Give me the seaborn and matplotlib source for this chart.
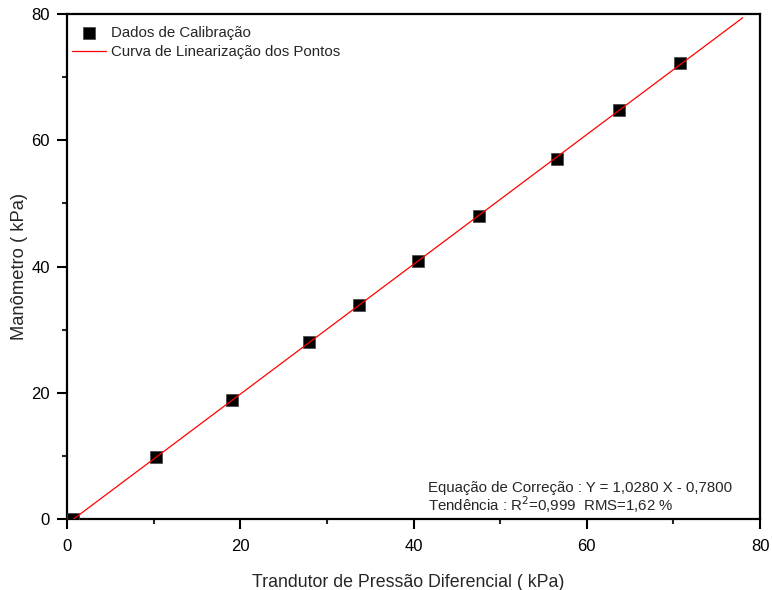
import numpy as np
import pandas as pd
import matplotlib
matplotlib.use("Agg")
import matplotlib.pyplot as plt
import seaborn as sns
from matplotlib.ticker import MultipleLocator

# Calibration readings (kPa)
transdutor = [0.7, 10.3, 19.0, 27.9, 33.7, 40.5, 47.6, 56.6, 63.7, 70.8]
manometro = [0.0, 9.8, 18.9, 28.0, 33.9, 40.8, 48.0, 57.0, 64.8, 72.2]

# Linear fit: Y = a X + b
coef_a = 1.0280
coef_b = -0.7800
fit_x = [0.76, 78.0]

sns.set_style("ticks")
plt.rcParams["font.family"] = ["Liberation Sans", "DejaVu Sans"]

fig = plt.figure(figsize=(7.72, 5.90), dpi=100)
ax = fig.add_axes([0.0868, 0.1203, 0.8977, 0.8560])

df = pd.DataFrame({"x": transdutor, "y": manometro})
sns.scatterplot(data=df, x="x", y="y", marker="s", s=80, color="black",
                edgecolor="#444444", linewidth=0.5, ax=ax,
                label="Dados de Calibração", zorder=3)

lx = np.array(fit_x)
ly = coef_a * lx + coef_b
sns.lineplot(x=lx, y=ly, color="red", linewidth=0.9, ax=ax,
             label="Curva de Linearização dos Pontos", zorder=4)

ax.set_xlim(0, 80)
ax.set_ylim(0, 80)
ax.xaxis.set_major_locator(MultipleLocator(20))
ax.xaxis.set_minor_locator(MultipleLocator(10))
ax.yaxis.set_major_locator(MultipleLocator(20))
ax.yaxis.set_minor_locator(MultipleLocator(10))
ax.tick_params(which="major", direction="out", length=7.2, width=1.5,
               labelsize=12, colors="black", pad=5)
ax.tick_params(axis="x", which="major", pad=7.5)
ax.tick_params(which="minor", direction="out", length=3.6, width=1.5)
ax.tick_params(top=False, right=False, which="both")

for sp in ax.spines.values():
    sp.set_visible(True)
    sp.set_linewidth(1.6)
    sp.set_color("black")

ax.set_xlabel("Trandutor de Pressão Diferencial ( kPa)", fontsize=12.8)
ax.set_ylabel("Manômetro ( kPa)", fontsize=13.2)
ax.xaxis.set_label_coords(0.492, -0.108)
ax.yaxis.set_label_coords(-0.056, 0.5)

leg = ax.legend(loc="upper left", bbox_to_anchor=(-0.0043, 0.992),
                frameon=False, fontsize=10.8,
                handlelength=2.27, handletextpad=0.33, borderaxespad=0.15,
                borderpad=0.4, labelspacing=0.3)

ax.text(0.521, 0.0535, "Equação de Correção : Y = 1,0280 X - 0,7800",
        transform=ax.transAxes, fontsize=10.85, va="baseline")
ax.text(0.521, 0.0158, "Tendência : R$^2$=0,999  RMS=1,62 %",
        transform=ax.transAxes, fontsize=10.85, va="baseline")

fig.savefig("out.png", dpi=100)
